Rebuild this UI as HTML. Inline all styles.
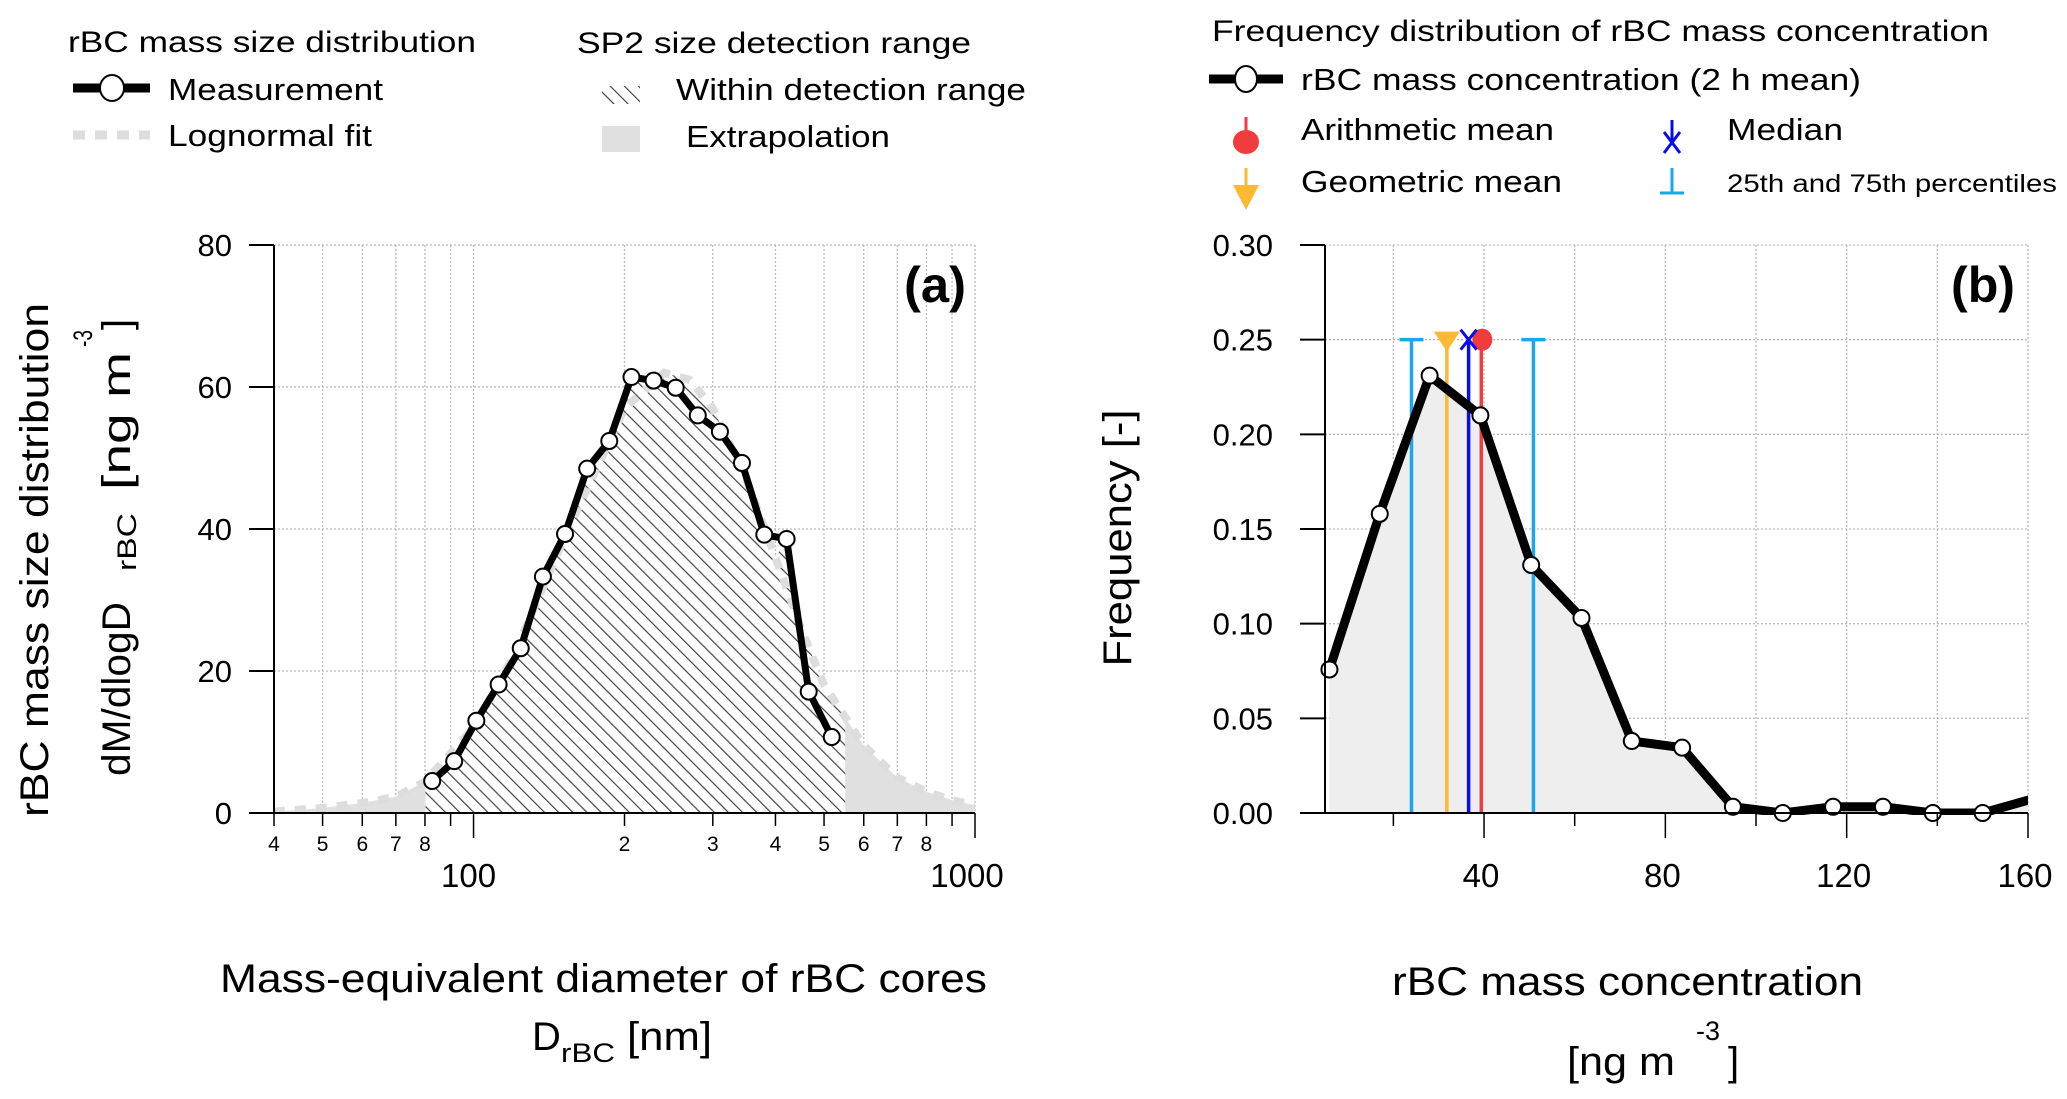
<!DOCTYPE html>
<html><head><meta charset="utf-8"><style>
html,body{margin:0;padding:0;background:#fff;}
svg{display:block;font-family:"Liberation Sans",Arial,sans-serif;}
</style></head><body>
<svg id="fig" width="2067" height="1099" viewBox="0 0 2067 1099" xmlns="http://www.w3.org/2000/svg">
<defs>
<pattern id="hatch" patternUnits="userSpaceOnUse" width="10" height="10" patternTransform="rotate(-45)">
<rect width="10" height="10" fill="#fff"/>
<line x1="0" y1="0" x2="0" y2="10" stroke="#444" stroke-width="2.4"/>
</pattern>
<clipPath id="clipA"><rect x="274" y="240" width="701" height="573"/></clipPath>
<clipPath id="clipB"><rect x="1325" y="240" width="703" height="575"/></clipPath>
</defs>

<!-- Legend A -->
<g>
<text x="68" y="52" font-size="30" textLength="408" lengthAdjust="spacingAndGlyphs">rBC mass size distribution</text>
<line x1="73" y1="88" x2="150" y2="88" stroke="#000" stroke-width="9"/>
<ellipse cx="112" cy="88" rx="12" ry="13" fill="#fff" stroke="#000" stroke-width="2"/>
<text x="168" y="100" font-size="31" textLength="215" lengthAdjust="spacingAndGlyphs">Measurement</text>
<line x1="73" y1="135" x2="150" y2="135" stroke="#ddd" stroke-width="9" stroke-dasharray="12,10"/>
<text x="168" y="146" font-size="31" textLength="204" lengthAdjust="spacingAndGlyphs">Lognormal fit</text>
<text x="577" y="53" font-size="30" textLength="394" lengthAdjust="spacingAndGlyphs">SP2 size detection range</text>
<rect x="602" y="86" width="38" height="18" fill="url(#hatch)"/>
<text x="676" y="100" font-size="31" textLength="350" lengthAdjust="spacingAndGlyphs">Within detection range</text>
<rect x="602" y="126" width="38" height="26" fill="#e0e0e0"/>
<text x="686" y="147" font-size="31" textLength="204" lengthAdjust="spacingAndGlyphs">Extrapolation</text>
</g>

<!-- Legend B -->
<g>
<text x="1212" y="41" font-size="30" textLength="777" lengthAdjust="spacingAndGlyphs">Frequency distribution of rBC mass concentration</text>
<line x1="1209" y1="79" x2="1283" y2="79" stroke="#000" stroke-width="9"/>
<ellipse cx="1246" cy="79" rx="11" ry="13" fill="#fff" stroke="#000" stroke-width="2"/>
<text x="1301" y="90" font-size="31" textLength="560" lengthAdjust="spacingAndGlyphs">rBC mass concentration (2 h mean)</text>
<line x1="1246" y1="117" x2="1246" y2="140" stroke="#f03c3c" stroke-width="3"/>
<ellipse cx="1246" cy="142" rx="13" ry="12" fill="#f03c3c"/>
<text x="1301" y="140" font-size="31" textLength="253" lengthAdjust="spacingAndGlyphs">Arithmetic mean</text>
<line x1="1246" y1="168" x2="1246" y2="190" stroke="#fbb934" stroke-width="3"/>
<polygon points="1233,185 1259,185 1246,210" fill="#fbb934"/>
<text x="1301" y="192" font-size="31" textLength="261" lengthAdjust="spacingAndGlyphs">Geometric mean</text>
<line x1="1672" y1="120" x2="1672" y2="142" stroke="#0a0af0" stroke-width="3"/>
<path d="M1664,132 L1680,153 M1680,132 L1664,153" stroke="#0a0af0" stroke-width="3"/>
<text x="1727" y="140" font-size="31" textLength="116" lengthAdjust="spacingAndGlyphs">Median</text>
<path d="M1672,168 L1672,193 M1660,193 L1684,193" stroke="#1aa7ec" stroke-width="3"/>
<text x="1727" y="192" font-size="25" textLength="330" lengthAdjust="spacingAndGlyphs">25th and 75th percentiles</text>
</g>

<g id="panelA"></g>
<g id="panelB"></g>

<!-- Axis titles -->
<text x="0" y="0" font-size="40" transform="translate(48,560) rotate(-90)" text-anchor="middle" textLength="514" lengthAdjust="spacingAndGlyphs">rBC mass size distribution</text>
<g transform="translate(130,776) rotate(-90)">
<text x="0" y="0" font-size="40" textLength="174" lengthAdjust="spacingAndGlyphs">dM/dlogD</text>
<text x="205" y="6" font-size="27" textLength="58" lengthAdjust="spacingAndGlyphs">rBC</text>
<text x="286" y="0" font-size="40" textLength="138" lengthAdjust="spacingAndGlyphs">[ng m</text>
<text x="429" y="-38" font-size="27" textLength="17" lengthAdjust="spacingAndGlyphs">-3</text>
<text x="446" y="0" font-size="40">]</text>
</g>
<text x="0" y="0" font-size="40" transform="translate(1131,538) rotate(-90)" text-anchor="middle" textLength="257" lengthAdjust="spacingAndGlyphs">Frequency [-]</text>
<text x="220" y="992" font-size="40" textLength="767" lengthAdjust="spacingAndGlyphs">Mass-equivalent diameter of rBC cores</text>
<g>
<text x="532" y="1050" font-size="40">D</text>
<text x="561" y="1062" font-size="27" textLength="54" lengthAdjust="spacingAndGlyphs">rBC</text>
<text x="627" y="1050" font-size="40" textLength="85" lengthAdjust="spacingAndGlyphs">[nm]</text>
</g>
<text x="1392" y="995" font-size="40" textLength="471" lengthAdjust="spacingAndGlyphs">rBC mass concentration</text>
<g>
<text x="1567" y="1075" font-size="40" textLength="108" lengthAdjust="spacingAndGlyphs">[ng m</text>
<text x="1696" y="1040" font-size="27">-3</text>
<text x="1728" y="1075" font-size="40">]</text>
</g>
<text x="904" y="302" font-size="50" font-weight="bold" textLength="62" lengthAdjust="spacingAndGlyphs">(a)</text>
<text x="1951" y="302" font-size="50" font-weight="bold" textLength="64" lengthAdjust="spacingAndGlyphs">(b)</text>
</svg>
<script>
// ---------- Panel A data ----------
const measD = [82.7,91.5,101.3,112.2,124.2,137.5,152.2,168.5,186.5,206.5,228.6,253,280,310,343,380,421,466,518];
const measV = [4.5,7.3,13.0,18.1,23.2,33.3,39.3,48.5,52.4,61.4,60.9,59.9,56.0,53.7,49.3,39.2,38.6,17.1,10.7];
const fitD = [40,50,60,70,80,100,120,150,200,240,270,300,350,400,450,500,551,600,700,800,900,1000];
const fitV = [0.2,0.7,1.4,2.3,4.4,12,22,38,57,62,61,57,47,36,26,18,13.5,9.5,5,3,1.8,1.1];
const detRange = [80.2,551];
const aYTicks = [0,20,40,60,80];
const aMinorLabels = [[40,"4"],[50,"5"],[60,"6"],[70,"7"],[80,"8"],[200,"2"],[300,"3"],[400,"4"],[500,"5"],[600,"6"],[700,"7"],[800,"8"]];
const aMinorTicks = [40,50,60,70,80,90,200,300,400,500,600,700,800,900];
const aMajorTicks = [100,1000];
// ---------- Panel B data ----------
const concX = [5.9,17.0,28.0,39.2,50.4,61.5,72.6,83.7,94.9,105.9,117.0,128.0,139.0,150.0,161.1];
const concF = [0.0758,0.158,0.231,0.210,0.131,0.103,0.038,0.0345,0.0033,0,0.0033,0.0033,0,0,0.0075];
const concMarker = [1,1,1,1,1,1,1,1,1,1,1,1,1,1,0];
const statP25 = 24.0, statGMean = 31.8, statMedian = 36.6, statAMean = 39.4, statP75 = 50.9;
const statTop = 0.25;
const bYTicks = [0,0.05,0.10,0.15,0.20,0.25,0.30];
const bYLabels = ["0.00","0.05","0.10","0.15","0.20","0.25","0.30"];
const bXMajor = [40,80,120,160];
const bXMinor = [20,60,100,140];
const bXGrid = [20,40,60,80,100,120,140,160];

const NS="http://www.w3.org/2000/svg";
function mk(parent,tag,attrs,text){const e=document.createElementNS(NS,tag);for(const k in attrs)e.setAttribute(k,attrs[k]);if(text!==undefined)e.textContent=text;parent.appendChild(e);return e;}

const AX0=274,AX1=975,AY0=813,AY1=245;
const xa=d=>AX0+(Math.log10(d)-Math.log10(40))*(AX1-AX0)/(3-Math.log10(40));
const ya=v=>AY0-v*(AY0-AY1)/80;
const gA=document.getElementById('panelA');
[...aMinorTicks,...aMajorTicks].forEach(d=>{const l=mk(gA,'line',{x1:xa(d),x2:xa(d),y1:AY1,y2:AY0,stroke:'#bbb','stroke-width':1.3,'stroke-dasharray':'2,2'});

});
aYTicks.slice(1).forEach(v=>{const l=mk(gA,'line',{x1:AX0,x2:AX1,y1:ya(v),y2:ya(v),stroke:'#bbb','stroke-width':1.3,'stroke-dasharray':'2,2'});

});
const fitPts=fitD.map((d,i)=>[xa(d),ya(fitV[i])]);
let ext='M'+xa(fitD[0])+','+AY0+' '+fitPts.map(p=>'L'+p[0]+','+p[1]).join(' ')+' L'+xa(fitD[fitD.length-1])+','+AY0+' Z';
const ef=mk(gA,'path',{d:ext,fill:'#e0e0e0','clip-path':'url(#clipA)'});


function interpFit(d){for(let i=0;i<fitD.length-1;i++){if(d>=fitD[i]&&d<=fitD[i+1]){const t=(Math.log10(d)-Math.log10(fitD[i]))/(Math.log10(fitD[i+1])-Math.log10(fitD[i]));return fitV[i]+t*(fitV[i+1]-fitV[i]);}}return 0;}
const allH=[];measD.forEach((d,i)=>allH.push([d,Math.max(measV[i],interpFit(d))]));
fitD.forEach((d,i)=>{if(d>detRange[0]&&d<detRange[1])allH.push([d,fitV[i]]);});
allH.push([detRange[0],interpFit(detRange[0])]);allH.push([detRange[1],interpFit(detRange[1])]);
allH.sort((a,b)=>a[0]-b[0]);
let hd='M'+xa(detRange[0])+','+AY0+' '+allH.map(p=>'L'+xa(p[0])+','+ya(p[1])).join(' ')+' L'+xa(detRange[1])+','+AY0+' Z';
const hf=mk(gA,'path',{d:hd,fill:'url(#hatch)'});


const fl=mk(gA,'polyline',{points:fitPts.map(p=>p.join(',')).join(' '),fill:'none',stroke:'#ddd','stroke-width':8,'stroke-dasharray':'11,10','clip-path':'url(#clipA)'});


const ml=mk(gA,'polyline',{points:measD.map((d,i)=>xa(d)+','+ya(measV[i])).join(' '),fill:'none',stroke:'#000','stroke-width':7,'stroke-linejoin':'round'});


measD.forEach((d,i)=>{const c=mk(gA,'circle',{cx:xa(d),cy:ya(measV[i]),r:8,fill:'#fff',stroke:'#000','stroke-width':2});

});
const sa=mk(gA,'path',{d:`M${AX0},${AY1} L${AX0},${AY0} L${AX1},${AY0}`,fill:'none',stroke:'#000','stroke-width':2});


aYTicks.forEach(v=>{mk(gA,'line',{x1:249,x2:AX0,y1:ya(v),y2:ya(v),stroke:'#000','stroke-width':2});
const t=mk(gA,'text',{x:232,y:ya(v)+11,'font-size':31,'text-anchor':'end'},String(v));

});
aMinorTicks.forEach(d=>mk(gA,'line',{x1:xa(d),x2:xa(d),y1:AY0,y2:826,stroke:'#000','stroke-width':1.5}));
aMajorTicks.forEach(d=>{mk(gA,'line',{x1:xa(d),x2:xa(d),y1:AY0,y2:838,stroke:'#000','stroke-width':1.5});
const t=mk(gA,'text',{x:xa(d)-(d===1000?8:5),y:887,'font-size':33,'text-anchor':'middle'},String(d));

});
aMinorLabels.forEach(p=>{const t=mk(gA,'text',{x:xa(p[0]),y:851,'font-size':21,'text-anchor':'middle'},p[1]);

});

const BX0=1325,BX1=2028;
const xb=v=>1302.7+v*(2028-1302.7)/160;
const yb=f=>AY0-f*(AY0-AY1)/0.30;
const gB=document.getElementById('panelB');
bXGrid.forEach(v=>{const l=mk(gB,'line',{x1:xb(v),x2:xb(v),y1:AY1,y2:AY0,stroke:'#bbb','stroke-width':1.3,'stroke-dasharray':'2,2'});

});
bYTicks.slice(1).forEach(v=>{const l=mk(gB,'line',{x1:BX0,x2:BX1,y1:yb(v),y2:yb(v),stroke:'#bbb','stroke-width':1.3,'stroke-dasharray':'2,2'});

});
let fd='M'+xb(concX[0])+','+AY0+' '+concX.map((x,i)=>'L'+xb(x)+','+yb(concF[i])).join(' ')+' L'+xb(concX[concX.length-1])+','+AY0+' Z';
const bf=mk(gB,'path',{d:fd,fill:'#eeeeee','clip-path':'url(#clipB)'});


function stat(v,color,name){const l=mk(gB,'line',{x1:xb(v),x2:xb(v),y1:AY0,y2:yb(statTop),stroke:color,'stroke-width':3.5});

return l;}
stat(statP25,'#1aa7ec','p25-line');stat(statP75,'#1aa7ec','p75-line');
[statP25,statP75].forEach(v=>{const c=mk(gB,'line',{x1:xb(v)-12,x2:xb(v)+12,y1:yb(statTop),y2:yb(statTop),stroke:'#1aa7ec','stroke-width':3.5});

});
stat(statGMean,'#fbb934','geometric-mean-line');
stat(statMedian,'#0a0af0','median-line');
stat(statAMean,'#f03c3c','arithmetic-mean-line');
const gm=mk(gB,'polygon',{points:`${xb(statGMean)-13},${yb(statTop)-8} ${xb(statGMean)+13},${yb(statTop)-8} ${xb(statGMean)},${yb(statTop)+12}`,fill:'#fbb934'});


const am=mk(gB,'ellipse',{cx:xb(statAMean)+1,cy:yb(statTop),rx:10,ry:11,fill:'#f03c3c'});


const mx=xb(statMedian),my=yb(statTop);
const md=mk(gB,'path',{d:`M${mx-8},${my-10} L${mx+8},${my+10} M${mx+8},${my-10} L${mx-8},${my+10}`,stroke:'#0a0af0','stroke-width':3});


const bl=mk(gB,'polyline',{points:concX.map((x,i)=>xb(x)+','+yb(concF[i])).join(' '),fill:'none',stroke:'#000','stroke-width':9,'stroke-linejoin':'round','clip-path':'url(#clipB)'});


concX.forEach((x,i)=>{if(!concMarker[i])return;const c=mk(gB,'circle',{cx:xb(x),cy:yb(concF[i]),r:8,fill:'#fff',stroke:'#000','stroke-width':2});

});
const sb=mk(gB,'path',{d:`M${BX0},${AY1} L${BX0},${AY0} L${BX1},${AY0}`,fill:'none',stroke:'#000','stroke-width':2});


bYTicks.forEach((v,i)=>{mk(gB,'line',{x1:1300,x2:BX0,y1:yb(v),y2:yb(v),stroke:'#000','stroke-width':2});
const t=mk(gB,'text',{x:1273,y:yb(v)+11,'font-size':31,'text-anchor':'end'},bYLabels[i]);

});
bXMinor.forEach(v=>mk(gB,'line',{x1:xb(v),x2:xb(v),y1:AY0,y2:826,stroke:'#000','stroke-width':1.5}));
bXMajor.forEach(v=>{mk(gB,'line',{x1:xb(v),x2:xb(v),y1:AY0,y2:838,stroke:'#000','stroke-width':1.5});
const t=mk(gB,'text',{x:xb(v)-3,y:887,'font-size':33,'text-anchor':'middle'},String(v));

});
</script>
</body></html>
